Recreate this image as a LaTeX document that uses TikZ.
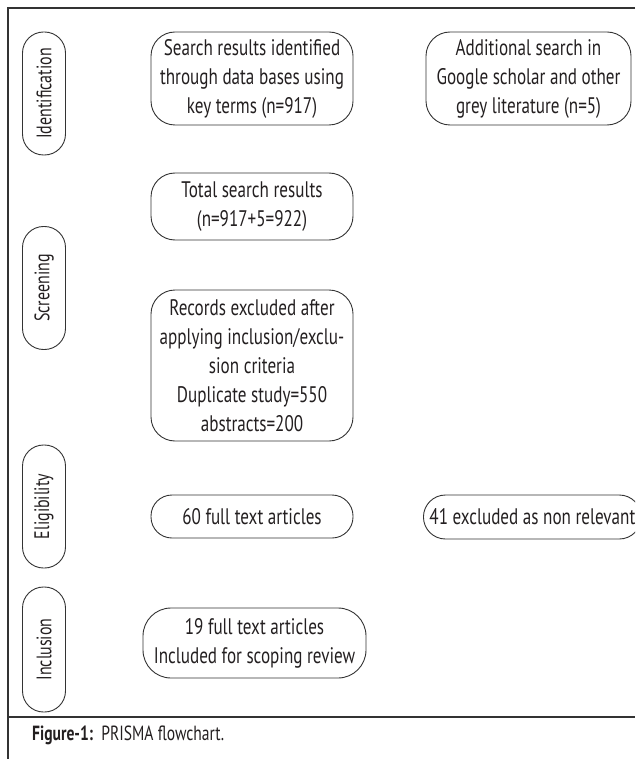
\documentclass[tikz,border=0pt]{standalone}
\usepackage{fontspec}
\setmainfont[FakeStretch=0.76]{PT Sans}
\usepackage{tikz}
\definecolor{ink}{HTML}{231F20}
\definecolor{rule}{HTML}{333333}

\begin{document}
\begin{tikzpicture}[x=1pt,y=-1pt,
        every node/.style={font=\fontsize{22.5}{29}\selectfont,align=center,text=ink,inner sep=0pt},
        rec/.style={draw=rule,line width=0.9pt,rounded corners=24pt,minimum width=202pt},
        stage/.style={draw=rule,line width=0.9pt,rounded corners=21pt,rotate=90,minimum width=123pt,minimum height=43pt,font=\fontsize{21}{25}\selectfont},
      ]
      \clip (0,0) rectangle (635,759);
      % frame
      \draw[rule,line width=2pt] (635,8) -- (8,8) -- (8,759);
      \draw[rule,line width=1.2pt] (8,717) -- (635,717);
      % stages
      \node[stage] (ident) at (44,93.5) {Identification};
      \node[stage] (screen) at (44,288) {Screening};
      \node[stage] (elig) at (44,506.5) {Eligibility};
      \node[stage, minimum width=125pt] (incl) at (44,649.5) {Inclusion};
      % records
      \node[rec, minimum height=93pt] (search) at (252,78.5) {Search results identified\\through data bases using\\key terms (n=917)};
      \node[rec, minimum height=93pt, minimum width=205pt] (extra) at (528.5,78.5) {Additional search in\\Google scholar and other\\grey literature (n=5)};
      \node[rec, minimum height=67pt] (total) at (252,206.5) {Total search results\\(n=917+5=922)};
      \node[rec, minimum height=151pt] (records) at (252,365.5) {Records excluded after\\applying inclusion/exclu-\\sion criteria\\Duplicate study=550\\abstracts=200};
      \node[rec, minimum height=43pt, rounded corners=21pt] (full) at (252,516.5) {60 full text articles};
      \node[rec, minimum height=44pt, rounded corners=22pt, minimum width=0pt, inner xsep=6pt, anchor=west] (excl) at (423,517) {41 excluded as non relevant};
      \node[rec, minimum height=70pt, minimum width=223pt, rounded corners=28pt] (final) at (254.5,643) {19 full text articles\\Included for scoping review};
      % caption
      \node[anchor=base west, font=\fontsize{20.5}{24}\selectfont] (cap) at (32,740) {\textbf{Figure-1:}\ \ PRISMA flowchart.};
    \end{tikzpicture}
\end{document}
